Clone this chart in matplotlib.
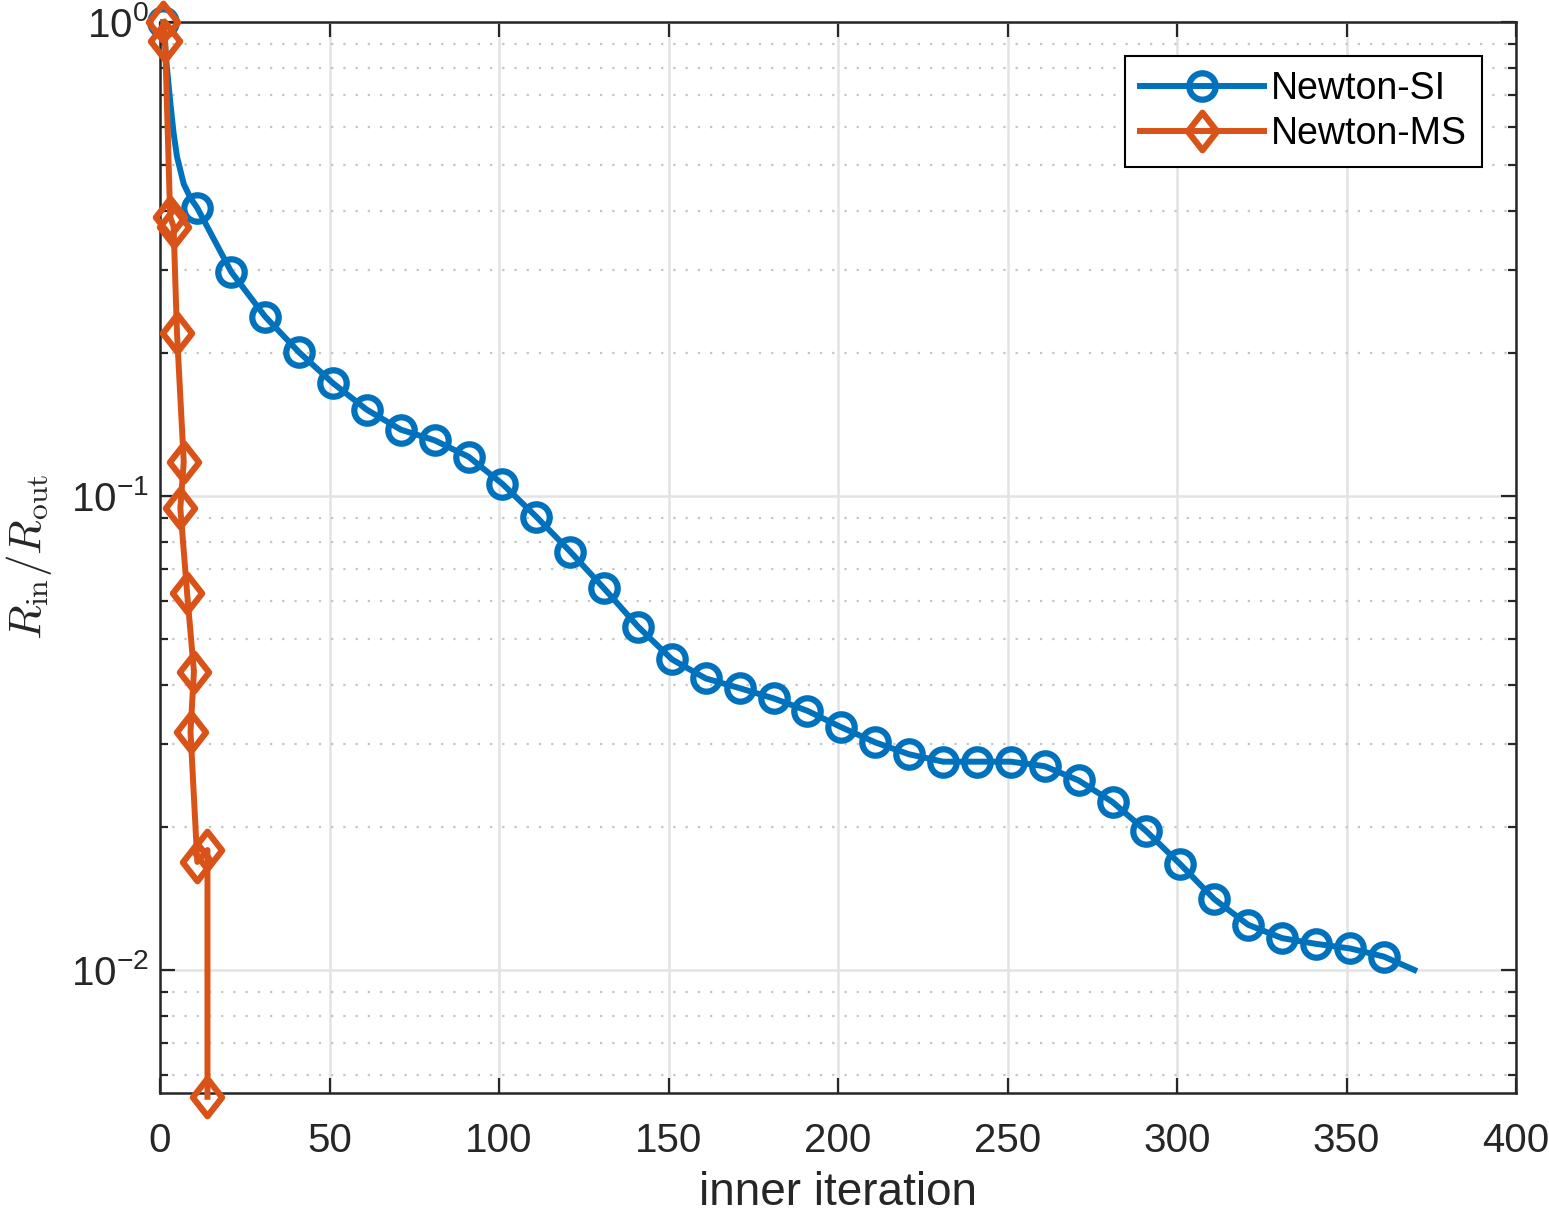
import numpy as np
import matplotlib
matplotlib.use('Agg')
import matplotlib.pyplot as plt
from matplotlib.path import Path
from matplotlib.ticker import LogLocator, FixedLocator, FuncFormatter, NullFormatter

# Newton-SI: curve, circle markers every 10 inner iterations
si_x = [1, 1.5, 2, 3, 4, 5, 7, 9, 11, 21, 31, 41, 51, 61, 71, 81, 91, 101, 111, 121,
        131, 141, 151, 161, 171, 181, 191, 201, 211, 221, 231, 241, 251, 261, 271,
        281, 291, 301, 311, 321, 331, 341, 351, 361, 370]
si_y = [1.0, 0.90, 0.805, 0.68, 0.583, 0.52, 0.455, 0.425, 0.405, 0.297, 0.239,
        0.201, 0.173, 0.152, 0.138, 0.131, 0.121, 0.106, 0.0904, 0.0763, 0.0638,
        0.0530, 0.0452, 0.0412, 0.0393, 0.0374, 0.0352, 0.0325, 0.0302, 0.0285,
        0.0275, 0.0275, 0.0275, 0.0269, 0.0251, 0.0226, 0.0196, 0.0167, 0.0141,
        0.01245, 0.01167, 0.01135, 0.0111, 0.01067, 0.0100]
si_marks = [0] + list(range(8, 44))

# Newton-MS
ms_x = [1, 1.5, 3, 4, 5, 7, 6, 8, 10, 9, 11, 14, 14]
ms_y = [1.0, 0.91, 0.388, 0.370, 0.221, 0.118, 0.0942, 0.0623, 0.0426, 0.0318,
        0.0169, 0.0179, 0.0054]

labels = ['Newton-SI', 'Newton-MS']
x_ticks = [0, 50, 100, 150, 200, 250, 300, 350, 400]

plt.rcParams['font.family'] = ['Liberation Sans', 'DejaVu Sans']
plt.rcParams['mathtext.fontset'] = 'custom'
plt.rcParams['mathtext.rm'] = 'Liberation Sans'
plt.rcParams['mathtext.it'] = 'Liberation Sans:italic'

blue = '#0072BD'
orange = '#D95319'
axcol = '#262626'

# MATLAB-like diamond (taller than wide)
diamond = Path([(0, 1), (0.78, 0), (0, -1), (-0.78, 0), (0, 1)],
               [Path.MOVETO, Path.LINETO, Path.LINETO, Path.LINETO, Path.CLOSEPOLY])

fig = plt.figure(figsize=(15.49, 12.17), dpi=100)
ax = fig.add_axes([0.1033, 0.1019, 0.8754, 0.8801])

ax.plot(si_x, si_y, color=blue, lw=4.3, marker='o', markevery=si_marks,
        markersize=19, markerfacecolor='none', markeredgewidth=4.5,
        label=labels[0], clip_on=False, zorder=3)
ax.plot(ms_x, ms_y, color=orange, lw=4.3, marker=diamond,
        markersize=27, markerfacecolor='none', markeredgewidth=4.5,
        label=labels[1], clip_on=False, zorder=4)

ax.set_yscale('log')
ax.set_xlim(0, 400)
ax.set_ylim(0.0055, 1.0)
ax.xaxis.set_major_locator(FixedLocator(x_ticks))
ax.yaxis.set_major_locator(LogLocator(base=10, numticks=10))
ax.yaxis.set_minor_locator(LogLocator(base=10, subs=np.arange(2, 10), numticks=20))
ax.yaxis.set_minor_formatter(NullFormatter())
ax.yaxis.set_major_formatter(FuncFormatter(lambda v, p: r'$\mathrm{10^{%d}}$' % round(np.log10(v))))

ax.grid(True, which='major', color='#e3e3e3', lw=1.8, ls='-', zorder=0)
ax.grid(True, which='minor', axis='y', color='#c4c4c4', lw=1.6, ls=(0, (1, 4.5)), zorder=0)
ax.set_axisbelow(True)

for s in ax.spines.values():
    s.set_color(axcol)
    s.set_linewidth(1.8)
ax.tick_params(which='both', direction='in', top=True, right=True, color=axcol,
               width=1.6, labelcolor=axcol, labelsize=29)
ax.tick_params(which='major', length=11)
ax.tick_params(which='minor', length=6)
ax.tick_params(axis='x', pad=21)
ax.tick_params(axis='y', pad=8)

ax.set_xlabel('inner iteration', fontsize=33, color=axcol, labelpad=8)
ax.set_ylabel(r'$R_{\rm in}/R_{\rm out}$', fontsize=32.5, color=axcol,
              math_fontfamily='cm', labelpad=12)

leg = ax.legend(loc='upper right', fontsize=27, handlelength=3.3,
                borderaxespad=0.9, fancybox=False, framealpha=1,
                edgecolor='#000000', borderpad=0.4, labelspacing=0.25,
                handletextpad=0.2)
leg.get_frame().set_linewidth(1.5)

fig.savefig('out.png', dpi=100)
